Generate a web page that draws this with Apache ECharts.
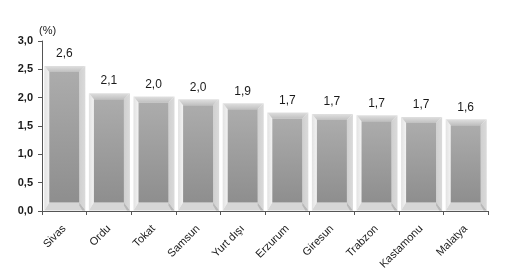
<!DOCTYPE html>
<html><head><meta charset="utf-8">
<script src="https://cdn.jsdelivr.net/npm/echarts@6/dist/echarts.min.js"></script>
<style>html,body{margin:0;padding:0;background:#fff}#c{width:505px;height:278px}</style>
</head><body><div id="c"></div>
<script>
const categories = ['Sivas','Ordu','Tokat','Samsun','Yurt dışı','Erzurum','Giresun','Trabzon','Kastamonu','Malatya'];
const values = [2.56, 2.08, 2.02, 1.97, 1.90, 1.74, 1.71, 1.69, 1.66, 1.62];
const yTicks = [0, 0.5, 1.0, 1.5, 2.0, 2.5, 3.0];
const unitLabel = '(%)';

const FONT = '"Liberation Sans", Arial, sans-serif';
function fmt(v){ return v.toFixed(1).replace('.', ','); }

function renderItem(params, api){
  const xi = api.value(0), v = api.value(1);
  const top = api.coord([xi, v]);
  const base = api.coord([xi, 0]);
  const cw = api.size([1, 0])[0];
  const bw = cw * 0.92;
  const l = top[0] - bw/2 + 0.5, r = l + bw, t = top[1], b = base[1] - 0.5;
  const lb = 5, rb = 6, tb = 6, bb = 8;
  const lin = (c0, c1, horiz) => new echarts.graphic.LinearGradient(0, 0, horiz?1:0, horiz?0:1, [{offset:0,color:c0},{offset:1,color:c1}]);
  return {
    type: 'group',
    children: [
      {type:'polygon', shape:{points:[[l,t],[l+lb,t+tb],[l+lb,b-bb],[l,b]]}, style:{fill:lin('#e2e2e2','#f2f2f2',true)}},
      {type:'polygon', shape:{points:[[r,t],[r,b],[r-rb,b-bb],[r-rb,t+tb]]}, style:{fill:lin('#d0d0d0','#dadada',true)}},
      {type:'polygon', shape:{points:[[l,b],[r,b],[r-rb,b-bb],[l+lb,b-bb]]}, style:{fill:'#d6d6d6'}},
      {type:'polygon', shape:{points:[[r,b],[r-rb,b-bb],[r-rb,b-bb+3],[r-3,b]]}, style:{fill:'#b8b8b8'}},
      {type:'polygon', shape:{points:[[l,t],[r,t],[r-rb,t+tb],[l+lb,t+tb]]}, style:{fill:lin('#e0e0e0','#c0c0c0',false)}},
      {type:'rect', shape:{x:l+lb, y:t+tb, width:bw-lb-rb, height:Math.max(0,b-t-tb-bb)}, style:{fill:lin('#acacac','#8e8e8e',false)}},
      {type:'text', style:{text:fmt(v), x:top[0], y:t-6, align:'center', verticalAlign:'bottom', fill:'#1a1a1a', font:'12px '+FONT}}
    ]
  };
}

const chart = echarts.init(document.getElementById('c'), null, {renderer:'canvas'});
chart.setOption({
  animation: false,
  backgroundColor: '#fff',
  grid: {left: 42, right: 17, top: 41, bottom: 67, containLabel: false},
  graphic: [{type:'text', left: 39, top: 25, style:{text: unitLabel, fill:'#1a1a1a', font:'11px '+FONT}}],
  xAxis: {
    type: 'category', data: categories,
    axisLine: {lineStyle:{color:'#555', width:1}},
    axisTick: {show:true, alignWithLabel:false, length:4, lineStyle:{color:'#555'}},
    axisLabel: {rotate: 45, margin: 16, color:'#1a1a1a', fontSize: 11, fontFamily: FONT, interval: 0}
  },
  yAxis: {
    type: 'value', min: yTicks[0], max: yTicks[yTicks.length-1], interval: 0.5,
    axisLine: {show:true, lineStyle:{color:'#555'}},
    axisTick: {show:true, length:4, lineStyle:{color:'#555'}},
    splitLine: {show:false},
    axisLabel: {margin: 9, color:'#1a1a1a', fontSize: 11, fontWeight:'bold', fontFamily: FONT, formatter: v => fmt(v)}
  },
  series: [{
    type: 'custom', renderItem: renderItem,
    encode: {x: 0, y: 1},
    data: values.map((v, i) => [i, v])
  }]
});
</script></body></html>
